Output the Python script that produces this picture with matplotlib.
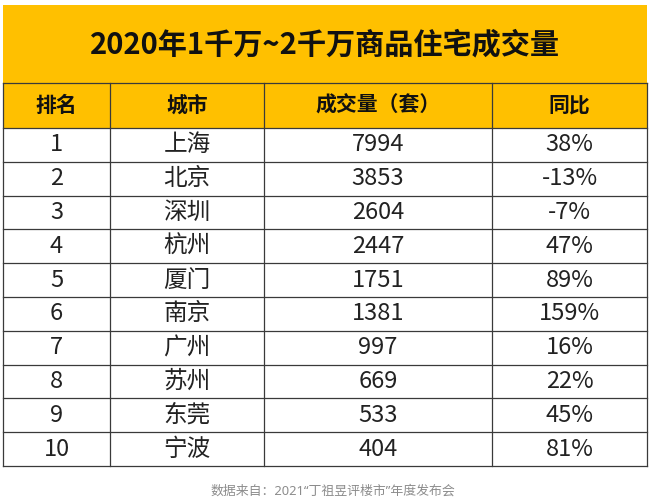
import matplotlib.pyplot as plt
from matplotlib.patches import Rectangle

plt.rcParams['font.family'] = ['Noto Sans CJK SC', 'DejaVu Sans']

title = "2020年1千万~2千万商品住宅成交量"
headers = ["排名", "城市", "成交量（套）", "同比"]
ranks = [1, 2, 3, 4, 5, 6, 7, 8, 9, 10]
cities = ["上海", "北京", "深圳", "杭州", "厦门", "南京", "广州", "苏州", "东莞", "宁波"]
volumes = [7994, 3853, 2604, 2447, 1751, 1381, 997, 669, 533, 404]
yoy = ["38%", "-13%", "-7%", "47%", "89%", "159%", "16%", "22%", "45%", "81%"]
source = "数据来自：2021\u201c丁祖昱评楼市\u201d年度发布会"

# layout in pixels
col_x = [3, 110, 264, 492, 647]
title_top, title_bot = 5, 83
head_bot = 128
table_bot = 466
row_h = (table_bot - head_bot) / len(ranks)
gold = '#FFC000'
line_c = '#3a3a3a'

fig = plt.figure(figsize=(6.49, 5.0), dpi=100)
ax = fig.add_axes([0, 0, 1, 1])
ax.set_xlim(0, 649)
ax.set_ylim(500, 0)
ax.axis('off')

# yellow bands
ax.add_patch(Rectangle((col_x[0], title_top), col_x[-1] - col_x[0], head_bot - title_top,
                       facecolor=gold, edgecolor='none'))
ax.text((col_x[0] + col_x[-1]) / 2, (title_top + title_bot) / 2, title,
        fontsize=21, fontweight='bold', ha='center', va='center', color='#111111')

# header
for i, h in enumerate(headers):
    cx = (col_x[i] + col_x[i + 1]) / 2
    ax.text(cx, (title_bot + head_bot) / 2, h, fontsize=15, fontweight='bold',
            ha='center', va='center', color='#111111')

# rows
for r in range(len(ranks)):
    cy = head_bot + row_h * (r + 0.5)
    vals = [str(ranks[r]), cities[r], str(volumes[r]), yoy[r]]
    for i, v in enumerate(vals):
        cx = (col_x[i] + col_x[i + 1]) / 2
        ax.text(cx, cy, v, fontsize=17, ha='center', va='center', color='#222222')

# grid lines
ax.plot([col_x[0], col_x[-1]], [title_bot, title_bot], color=line_c, lw=0.9)
for r in range(len(ranks) + 1):
    y = head_bot + row_h * r
    ax.plot([col_x[0], col_x[-1]], [y, y], color=line_c, lw=0.9)
for i, x in enumerate(col_x):
    ax.plot([x, x], [title_bot, table_bot], color=line_c, lw=0.9)

ax.text(333, 491, source, fontsize=9.3, ha='center', va='center', color='#8c8c8c',
        family=['Noto Sans', 'Noto Sans CJK SC'])

fig.savefig('out.png', dpi=100)
